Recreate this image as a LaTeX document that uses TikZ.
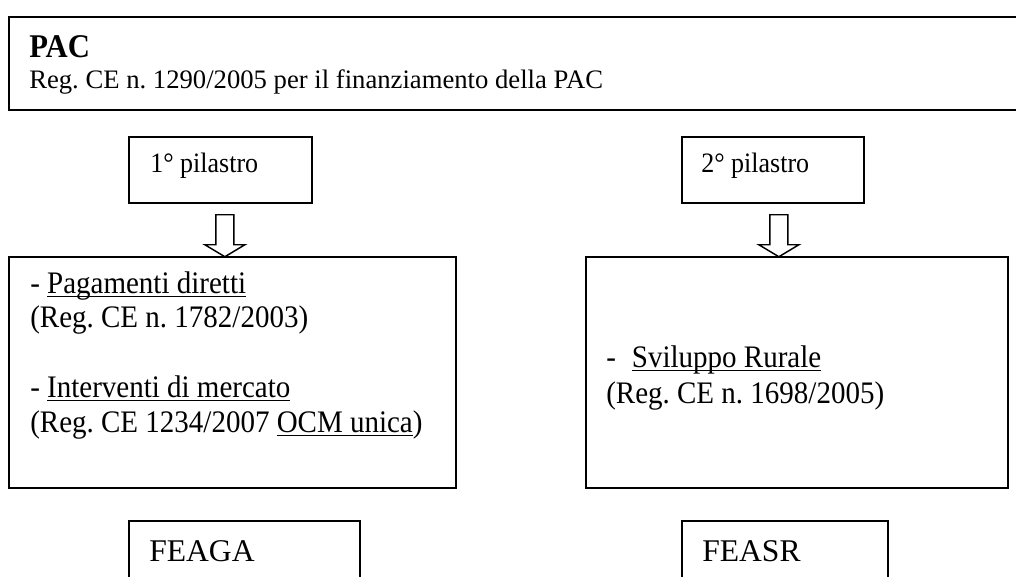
\documentclass[tikz,border=0pt]{standalone}
\usepackage{fontspec}
\usepackage{graphicx}
\setmainfont{Liberation Serif}
\frenchspacing
\newcommand\ulin[1]{\leavevmode\setbox0\hbox{#1}\rlap{\rule[-2.8pt]{\wd0}{0.75pt}}\box0}
\newcommand\tallr[1]{\scalebox{1}[1.08]{#1}}
\begin{document}
\begin{tikzpicture}[x=0.75pt,y=-0.75pt,
  box/.style={draw, line width=1.3pt, inner sep=0pt, anchor=north west},
  txt/.style={inner sep=0pt, anchor=base west},
  bodyfont/.style={font=\fontsize{21.75}{26}\selectfont},
  hollow/.style={draw, line width=1.1pt, fill=white, line join=miter}]
\clip (0,0) rectangle (1016,576);
\fill[white] (0,0) rectangle (1016,576);
% boxes
\node[box, minimum width={1030*0.75pt}, minimum height={93*0.75pt}] (pac) at (8,16) {};
\node[box, minimum width={183*0.75pt}, minimum height={66*0.75pt}] (p1) at (128,136) {};
\node[box, minimum width={182*0.75pt}, minimum height={66*0.75pt}] (p2) at (681,136) {};
\node[box, minimum width={447*0.75pt}, minimum height={231*0.75pt}] (b1) at (8,256) {};
\node[box, minimum width={422*0.75pt}, minimum height={231*0.75pt}] (b2) at (585,256) {};
\node[box, minimum width={231*0.75pt}, minimum height={80*0.75pt}] (f1) at (128,520) {};
\node[box, minimum width={206*0.75pt}, minimum height={80*0.75pt}] (f2) at (681,520) {};
% hollow arrows
\path (p1.south) ++(4.5,11) coordinate (a1);
\path (p2.south) ++(6,11) coordinate (a2);
\foreach \a in {a1,a2}{
  \draw[hollow] (\a) +(-9,0) -- +(9,0) -- +(9,30) -- +(20,30) -- +(0,42) -- +(-20,30) -- +(-9,30) -- cycle;
}
% texts
\node[txt, font=\fontsize{23}{28}\selectfont\bfseries] (pact) at (29,57) {\tallr{PAC}};
\node[txt, font=\fontsize{20}{24}\selectfont] (pacr) at (29,88) {Reg. CE n. 1290/2005 per il finanziamento della PAC};
\node[txt, font=\fontsize{19.5}{23}\selectfont] (p1t) at (150,172) {\tallr{1° pilastro}};
\node[txt, font=\fontsize{19.5}{23}\selectfont] (p2t) at (701,172) {\tallr{2° pilastro}};
\node[txt, bodyfont] (b1a) at (30,293) {\tallr{- \ulin{Pagamenti diretti}}};
\node[txt, bodyfont] (b1b) at (30,327) {\tallr{(Reg. CE n. 1782/2003)}};
\node[txt, bodyfont] (b1c) at (30,397) {\tallr{- \ulin{Interventi di mercato}}};
\node[txt, bodyfont] (b1d) at (30,432) {\tallr{(Reg. CE 1234/2007 \ulin{OCM unica})}};
\node[txt, bodyfont] (b2a) at (606,367) {\tallr{-\hspace{12pt}\ulin{Sviluppo Rurale}}};
\node[txt, bodyfont] (b2b) at (606,403) {\tallr{(Reg. CE n. 1698/2005)}};
\node[txt, font=\fontsize{23.7}{28}\selectfont] (f1t) at (149,561) {FEAGA};
\node[txt, font=\fontsize{23.7}{28}\selectfont] (f2t) at (702,561) {FEASR};
\end{tikzpicture}
\end{document}
